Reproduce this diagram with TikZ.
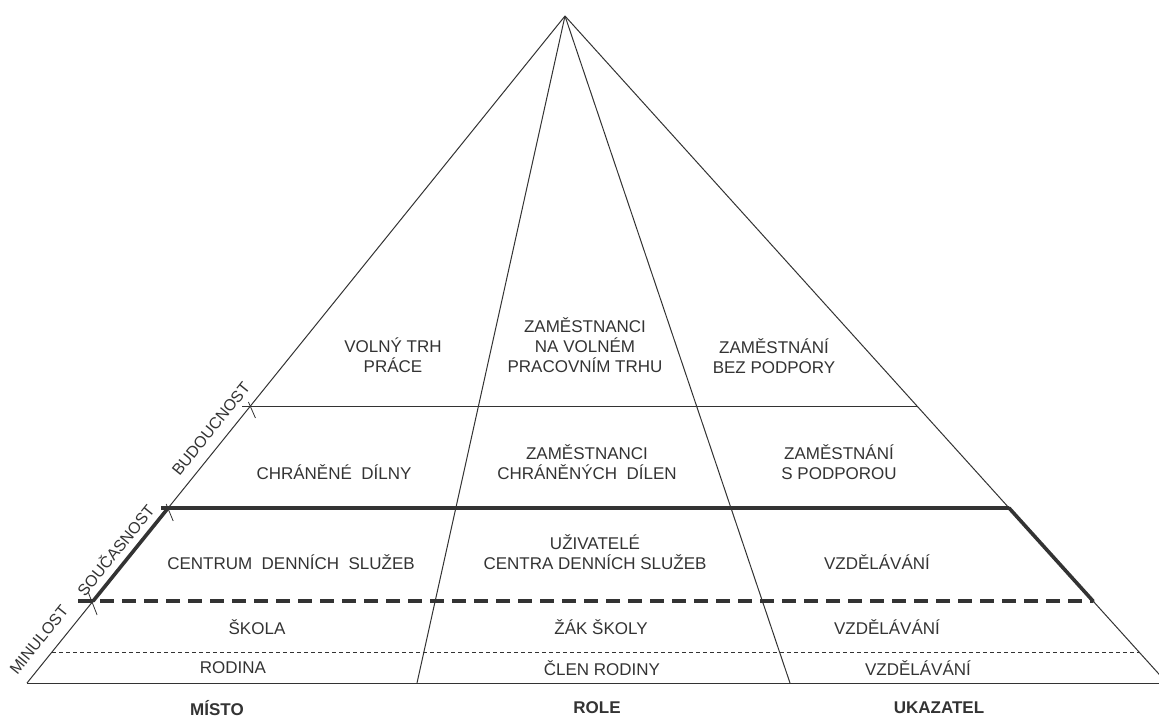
\documentclass[tikz,border=0pt]{standalone}
\usepackage{fontspec}
\setmainfont{Liberation Sans}
\usetikzlibrary{calc}
\definecolor{ink}{HTML}{333333}
\definecolor{txt}{HTML}{333333}
\tikzset{
  thinline/.style={draw=ink,line width=1pt},
  thickline/.style={draw=ink,line width=3.6pt},
  bigdash/.style={draw=ink,line width=3.6pt,dash pattern=on 14pt off 8pt},
  smalldash/.style={draw=ink,line width=0.8pt,dash pattern=on 4pt off 3pt},
  tickline/.style={draw=ink,line width=0.8pt},
  cell/.style={text=txt,align=center,inner sep=0pt,font=\fontsize{17}{20}\selectfont},
  axis/.style={text=txt,inner sep=0pt,font=\fontsize{17}{20}\selectfont\bfseries},
  time/.style={text=txt,inner sep=0pt,rotate=51.1,font=\fontsize{16}{18}\selectfont}
}
\begin{document}
\begin{tikzpicture}[x=1pt,y=-1pt]
\useasboundingbox (0,0) rectangle (1159,717);
\clip (0,0) rectangle (1159,717);
% main points
\coordinate (A) at (565,16);
\coordinate (BL) at (27,683);
\coordinate (BR) at (1167,683);
\coordinate (IL) at (417,683);
\coordinate (IR) at (790,683);
% level points on slopes
\coordinate (L406) at ($(A)!0.5847!(BL)$);
\coordinate (R406) at ($(A)!0.5847!(BR)$);
\coordinate (L508) at ($(A)!0.7376!(BL)$);
\coordinate (R508) at ($(A)!0.7376!(BR)$);
\coordinate (L601) at ($(A)!0.8771!(BL)$);
\coordinate (R601) at ($(A)!0.8771!(BR)$);
\coordinate (L652) at ($(A)!0.9535!(BL)$);
\coordinate (R652) at ($(A)!0.9535!(BR)$);
% outline and rays
\draw[thinline] (A) -- (BL);
\draw[thinline] (A) -- (BR);
\draw[thinline] (A) -- (IL);
\draw[thinline] (A) -- (IR);
\draw[thinline] (BL) -- (BR);
% levels
\draw[thinline] ($(L406)+(-8,0)$) -- (R406);
\draw[thickline] ($(L508)+(-7,0)$) -- (R508);
\draw[thickline,line cap=round] (L508) -- (L601);
\draw[thickline,line cap=round] (R508) -- (R601);
\draw[bigdash] ($(L601)+(-15,0)$) -- (R601);
\draw[smalldash] (L652) -- (R652);
% ticks
\draw[tickline] ($(L406)+(-2,-4)$) -- ($(L406)+(5,12)$);
\draw[tickline] ($(L508)+(-2,-4)$) -- ($(L508)+(5,13)$);
\draw[tickline] ($(L601)+(-5,-9)$) -- ($(L601)+(4,14)$);
% time labels
\node[time] (minulost) at (39,640) {MINULOST};
\node[time] (soucasnost) at (115,550) {SOUČASNOST};
\node[time] (budoucnost) at (211,429) {BUDOUCNOST};
% row 1
\node[cell] (c11) at (393,355) {VOLNÝ TRH\\PRÁCE};
\node[cell] (c12) at (585,345) {ZAMĚSTNANCI\\NA VOLNÉM\\PRACOVNÍM TRHU};
\node[cell] (c13) at (774,356) {ZAMĚSTNÁNÍ\\BEZ PODPORY};
% row 2
\node[cell] (c21) at (334,472) {CHRÁNĚNÉ\ \ DÍLNY};
\node[cell] (c22) at (587,462) {ZAMĚSTNANCI\\CHRÁNĚNÝCH\ \ DÍLEN};
\node[cell] (c23) at (839,462) {ZAMĚSTNÁNÍ\\S PODPOROU};
% row 3
\node[cell] (c31) at (291,562) {CENTRUM\ \ DENNÍCH\ \ SLUŽEB};
\node[cell] (c32) at (595,552) {UŽIVATELÉ\\CENTRA DENNÍCH SLUŽEB};
\node[cell] (c33) at (877,562) {VZDĚLÁVÁNÍ};
% row 4
\node[cell] (c41) at (257,627) {ŠKOLA};
\node[cell] (c42) at (601,627) {ŽÁK ŠKOLY};
\node[cell] (c43) at (887,627) {VZDĚLÁVÁNÍ};
% row 5
\node[cell] (c51) at (233,668) {RODINA};
\node[cell] (c52) at (602,668) {ČLEN RODINY};
\node[cell] (c53) at (918,668) {VZDĚLÁVÁNÍ};
% axis labels
\node[axis] (misto) at (217,708) {MÍSTO};
\node[axis] (role) at (597,708) {ROLE};
\node[axis] (ukazatel) at (939,708) {UKAZATEL};
\end{tikzpicture}
\end{document}
